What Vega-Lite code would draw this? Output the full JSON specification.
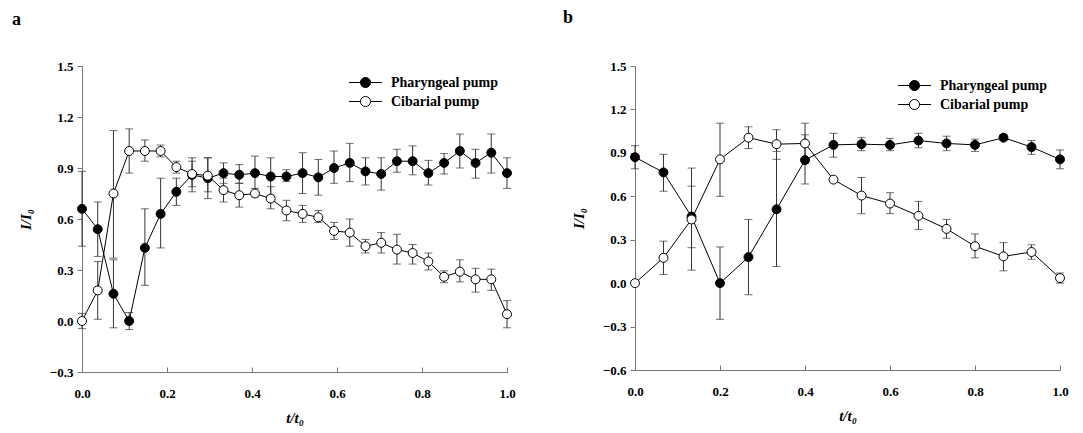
{
  "$schema": "https://vega.github.io/schema/vega-lite/v6.json",
  "padding": {"left": 12, "top": 9, "right": 5, "bottom": 5},
  "background": "white",
  "config": {
    "font": "Liberation Serif",
    "view": {"stroke": null},
    "concat": {"spacing": 47},
    "axis": {
      "domainColor": "#777777", "tickColor": "#777777", "grid": false,
      "labelFont": "Liberation Serif", "labelFontWeight": "bold", "labelFontSize": 13, "labelColor": "black",
      "titleFont": "Liberation Serif", "titleFontWeight": "bold", "titleFontStyle": "italic", "titleFontSize": 15, "titleColor": "black"
    },
    "axisY": {"tickSize": 5, "labelPadding": 4, "titlePadding": 16},
    "axisX": {"tickSize": -5, "labelPadding": 20, "titlePadding": 10, "labelFlush": false},
    "legend": {
      "labelFont": "Liberation Serif", "labelFontWeight": "bold", "labelFontSize": 14, "labelColor": "black",
      "symbolType": "M-1.83,0H-0.56M0.56,0H1.83M-0.56,0A0.56,0.56 0 1,0 0.56,0A0.56,0.56 0 1,0 -0.56,0Z",
      "symbolSize": 324, "symbolStrokeColor": "black", "symbolStrokeWidth": 1,
      "labelOffset": 16, "padding": 0
    },
    "title": {"font": "Liberation Serif", "fontWeight": "bold", "fontSize": 18, "color": "black"}
  },
  "datasets": {
    "a": [
      {"series": "Pharyngeal pump", "x": 0.0, "y": 0.66, "lo": 0.44, "hi": 0.88},
      {"series": "Pharyngeal pump", "x": 0.037, "y": 0.54, "lo": 0.38, "hi": 0.70},
      {"series": "Pharyngeal pump", "x": 0.074, "y": 0.16, "lo": -0.04, "hi": 0.36},
      {"series": "Pharyngeal pump", "x": 0.111, "y": 0.00, "lo": -0.05, "hi": 0.05},
      {"series": "Pharyngeal pump", "x": 0.148, "y": 0.43, "lo": 0.21, "hi": 0.66},
      {"series": "Pharyngeal pump", "x": 0.185, "y": 0.63, "lo": 0.43, "hi": 0.84},
      {"series": "Pharyngeal pump", "x": 0.222, "y": 0.76, "lo": 0.68, "hi": 0.84},
      {"series": "Pharyngeal pump", "x": 0.259, "y": 0.86, "lo": 0.76, "hi": 0.96},
      {"series": "Pharyngeal pump", "x": 0.296, "y": 0.84, "lo": 0.72, "hi": 0.96},
      {"series": "Pharyngeal pump", "x": 0.333, "y": 0.87, "lo": 0.81, "hi": 0.93},
      {"series": "Pharyngeal pump", "x": 0.370, "y": 0.86, "lo": 0.81, "hi": 0.92},
      {"series": "Pharyngeal pump", "x": 0.407, "y": 0.87, "lo": 0.76, "hi": 0.97},
      {"series": "Pharyngeal pump", "x": 0.444, "y": 0.85, "lo": 0.74, "hi": 0.96},
      {"series": "Pharyngeal pump", "x": 0.481, "y": 0.85, "lo": 0.82, "hi": 0.89},
      {"series": "Pharyngeal pump", "x": 0.519, "y": 0.87, "lo": 0.75, "hi": 0.99},
      {"series": "Pharyngeal pump", "x": 0.556, "y": 0.845, "lo": 0.74, "hi": 0.95},
      {"series": "Pharyngeal pump", "x": 0.593, "y": 0.90, "lo": 0.81, "hi": 1.00},
      {"series": "Pharyngeal pump", "x": 0.630, "y": 0.93, "lo": 0.82, "hi": 1.045},
      {"series": "Pharyngeal pump", "x": 0.667, "y": 0.88, "lo": 0.80, "hi": 0.96},
      {"series": "Pharyngeal pump", "x": 0.704, "y": 0.865, "lo": 0.77, "hi": 0.96},
      {"series": "Pharyngeal pump", "x": 0.741, "y": 0.94, "lo": 0.875, "hi": 1.01},
      {"series": "Pharyngeal pump", "x": 0.778, "y": 0.94, "lo": 0.86, "hi": 1.03},
      {"series": "Pharyngeal pump", "x": 0.815, "y": 0.87, "lo": 0.80, "hi": 0.945},
      {"series": "Pharyngeal pump", "x": 0.852, "y": 0.93, "lo": 0.865, "hi": 0.985},
      {"series": "Pharyngeal pump", "x": 0.889, "y": 1.00, "lo": 0.90, "hi": 1.10},
      {"series": "Pharyngeal pump", "x": 0.926, "y": 0.93, "lo": 0.84, "hi": 1.01},
      {"series": "Pharyngeal pump", "x": 0.963, "y": 0.99, "lo": 0.87, "hi": 1.10},
      {"series": "Pharyngeal pump", "x": 1.0, "y": 0.87, "lo": 0.78, "hi": 0.96},
      {"series": "Cibarial pump", "x": 0.0, "y": 0.00, "lo": -0.045, "hi": 0.045},
      {"series": "Cibarial pump", "x": 0.037, "y": 0.18, "lo": 0.01, "hi": 0.35},
      {"series": "Cibarial pump", "x": 0.074, "y": 0.75, "lo": 0.37, "hi": 1.12},
      {"series": "Cibarial pump", "x": 0.111, "y": 1.00, "lo": 0.87, "hi": 1.13},
      {"series": "Cibarial pump", "x": 0.148, "y": 1.00, "lo": 0.94, "hi": 1.065},
      {"series": "Cibarial pump", "x": 0.185, "y": 1.00, "lo": 0.965, "hi": 1.035},
      {"series": "Cibarial pump", "x": 0.222, "y": 0.905, "lo": 0.87, "hi": 0.94},
      {"series": "Cibarial pump", "x": 0.259, "y": 0.865, "lo": 0.79, "hi": 0.94},
      {"series": "Cibarial pump", "x": 0.296, "y": 0.855, "lo": 0.76, "hi": 0.96},
      {"series": "Cibarial pump", "x": 0.333, "y": 0.77, "lo": 0.70, "hi": 0.84},
      {"series": "Cibarial pump", "x": 0.370, "y": 0.74, "lo": 0.67, "hi": 0.81},
      {"series": "Cibarial pump", "x": 0.407, "y": 0.75, "lo": 0.73, "hi": 0.78},
      {"series": "Cibarial pump", "x": 0.444, "y": 0.72, "lo": 0.66, "hi": 0.79},
      {"series": "Cibarial pump", "x": 0.481, "y": 0.65, "lo": 0.59, "hi": 0.71},
      {"series": "Cibarial pump", "x": 0.519, "y": 0.63, "lo": 0.58, "hi": 0.68},
      {"series": "Cibarial pump", "x": 0.556, "y": 0.61, "lo": 0.58, "hi": 0.65},
      {"series": "Cibarial pump", "x": 0.593, "y": 0.53, "lo": 0.48, "hi": 0.58},
      {"series": "Cibarial pump", "x": 0.630, "y": 0.52, "lo": 0.44, "hi": 0.60},
      {"series": "Cibarial pump", "x": 0.667, "y": 0.44, "lo": 0.40, "hi": 0.48},
      {"series": "Cibarial pump", "x": 0.704, "y": 0.46, "lo": 0.40, "hi": 0.52},
      {"series": "Cibarial pump", "x": 0.741, "y": 0.42, "lo": 0.335, "hi": 0.51},
      {"series": "Cibarial pump", "x": 0.778, "y": 0.40, "lo": 0.335, "hi": 0.45},
      {"series": "Cibarial pump", "x": 0.815, "y": 0.35, "lo": 0.30, "hi": 0.40},
      {"series": "Cibarial pump", "x": 0.852, "y": 0.26, "lo": 0.225, "hi": 0.295},
      {"series": "Cibarial pump", "x": 0.889, "y": 0.29, "lo": 0.23, "hi": 0.36},
      {"series": "Cibarial pump", "x": 0.926, "y": 0.245, "lo": 0.17, "hi": 0.31},
      {"series": "Cibarial pump", "x": 0.963, "y": 0.245, "lo": 0.18, "hi": 0.305},
      {"series": "Cibarial pump", "x": 1.0, "y": 0.04, "lo": -0.04, "hi": 0.12}
    ],
    "b": [
      {"series": "Pharyngeal pump", "x": 0.0, "y": 0.87, "lo": 0.79, "hi": 0.95},
      {"series": "Pharyngeal pump", "x": 0.067, "y": 0.765, "lo": 0.635, "hi": 0.89},
      {"series": "Pharyngeal pump", "x": 0.133, "y": 0.46, "lo": 0.245, "hi": 0.67},
      {"series": "Pharyngeal pump", "x": 0.2, "y": 0.0, "lo": -0.25, "hi": 0.25},
      {"series": "Pharyngeal pump", "x": 0.267, "y": 0.18, "lo": -0.08, "hi": 0.44},
      {"series": "Pharyngeal pump", "x": 0.333, "y": 0.51, "lo": 0.115, "hi": 0.91},
      {"series": "Pharyngeal pump", "x": 0.4, "y": 0.85, "lo": 0.685, "hi": 1.025},
      {"series": "Pharyngeal pump", "x": 0.467, "y": 0.955, "lo": 0.87, "hi": 1.035},
      {"series": "Pharyngeal pump", "x": 0.533, "y": 0.96, "lo": 0.915, "hi": 1.005},
      {"series": "Pharyngeal pump", "x": 0.6, "y": 0.955, "lo": 0.915, "hi": 1.0},
      {"series": "Pharyngeal pump", "x": 0.667, "y": 0.985, "lo": 0.935, "hi": 1.035},
      {"series": "Pharyngeal pump", "x": 0.733, "y": 0.965, "lo": 0.915, "hi": 1.015},
      {"series": "Pharyngeal pump", "x": 0.8, "y": 0.955, "lo": 0.91, "hi": 0.995},
      {"series": "Pharyngeal pump", "x": 0.867, "y": 1.005, "lo": 0.985, "hi": 1.025},
      {"series": "Pharyngeal pump", "x": 0.933, "y": 0.94, "lo": 0.89, "hi": 0.985},
      {"series": "Pharyngeal pump", "x": 1.0, "y": 0.855, "lo": 0.79, "hi": 0.92},
      {"series": "Cibarial pump", "x": 0.0, "y": 0.0, "lo": 0.0, "hi": 0.0},
      {"series": "Cibarial pump", "x": 0.067, "y": 0.175, "lo": 0.06, "hi": 0.29},
      {"series": "Cibarial pump", "x": 0.133, "y": 0.44, "lo": 0.09, "hi": 0.795},
      {"series": "Cibarial pump", "x": 0.2, "y": 0.855, "lo": 0.60, "hi": 1.105},
      {"series": "Cibarial pump", "x": 0.267, "y": 1.005, "lo": 0.93, "hi": 1.08},
      {"series": "Cibarial pump", "x": 0.333, "y": 0.96, "lo": 0.855, "hi": 1.06},
      {"series": "Cibarial pump", "x": 0.4, "y": 0.965, "lo": 0.83, "hi": 1.105},
      {"series": "Cibarial pump", "x": 0.467, "y": 0.715, "lo": 0.705, "hi": 0.725},
      {"series": "Cibarial pump", "x": 0.533, "y": 0.605, "lo": 0.48, "hi": 0.73},
      {"series": "Cibarial pump", "x": 0.6, "y": 0.55, "lo": 0.48, "hi": 0.625},
      {"series": "Cibarial pump", "x": 0.667, "y": 0.465, "lo": 0.37, "hi": 0.565},
      {"series": "Cibarial pump", "x": 0.733, "y": 0.375, "lo": 0.31, "hi": 0.44},
      {"series": "Cibarial pump", "x": 0.8, "y": 0.255, "lo": 0.175, "hi": 0.34},
      {"series": "Cibarial pump", "x": 0.867, "y": 0.185, "lo": 0.085, "hi": 0.28},
      {"series": "Cibarial pump", "x": 0.933, "y": 0.215, "lo": 0.165, "hi": 0.265},
      {"series": "Cibarial pump", "x": 1.0, "y": 0.035, "lo": 0.0, "hi": 0.07}
    ]
  },
  "hconcat": [
    {
      "width": 425, "height": 306,
      "title": {"text": "a", "anchor": "start", "frame": "group", "dx": -70, "offset": 31},
      "data": {"name": "a"},
      "encoding": {
        "x": {"field": "x", "type": "quantitative", "scale": {"domain": [0, 1], "nice": false}, "axis": {"values": [0, 0.2, 0.4, 0.6, 0.8, 1], "format": ".1f", "title": "t/t₀"}}
      },
      "layer": [
        {
          "mark": {"type": "errorbar", "color": "#333333", "thickness": 1, "ticks": {"size": 8, "color": "#333333"}},
          "encoding": {
            "y": {"field": "lo", "type": "quantitative", "scale": {"domain": [-0.3, 1.5], "nice": false, "zero": false}, "axis": {"values": [-0.3, 0, 0.3, 0.6, 0.9, 1.2, 1.5], "format": ".1f", "title": "I/I₀"}},
            "y2": {"field": "hi"},
            "detail": {"field": "series"}
          }
        },
        {
          "mark": {"type": "line", "color": "black", "strokeWidth": 1},
          "encoding": {
            "y": {"field": "y", "type": "quantitative", "scale": {"domain": [-0.3, 1.5], "nice": false, "zero": false}, "axis": {"values": [-0.3, 0, 0.3, 0.6, 0.9, 1.2, 1.5], "format": ".1f", "title": "I/I₀"}},
            "detail": {"field": "series"}
          }
        },
        {
          "mark": {"type": "point", "shape": "circle", "size": 80, "stroke": "black", "strokeWidth": 1, "opacity": 1, "filled": false},
          "encoding": {
            "y": {"field": "y", "type": "quantitative", "scale": {"domain": [-0.3, 1.5], "nice": false, "zero": false}, "axis": {"values": [-0.3, 0, 0.3, 0.6, 0.9, 1.2, 1.5], "format": ".1f", "title": "I/I₀"}},
            "fill": {"field": "series", "type": "nominal", "scale": {"domain": ["Pharyngeal pump", "Cibarial pump"], "range": ["black", "white"]},
              "legend": {"title": null, "orient": "none", "legendX": 274, "legendY": 7, "rowPadding": 2}}
          }
        }
      ]
    },
    {
      "width": 425, "height": 304,
      "title": {"text": "b", "anchor": "start", "frame": "group", "dx": -72, "offset": 33},
      "data": {"name": "b"},
      "encoding": {
        "x": {"field": "x", "type": "quantitative", "scale": {"domain": [0, 1], "nice": false}, "axis": {"values": [0, 0.2, 0.4, 0.6, 0.8, 1], "format": ".1f", "title": "t/t₀"}}
      },
      "layer": [
        {
          "mark": {"type": "errorbar", "color": "#333333", "thickness": 1, "ticks": {"size": 8, "color": "#333333"}},
          "encoding": {
            "y": {"field": "lo", "type": "quantitative", "scale": {"domain": [-0.6, 1.5], "nice": false, "zero": false}, "axis": {"values": [-0.6, -0.3, 0, 0.3, 0.6, 0.9, 1.2, 1.5], "format": ".1f", "title": "I/I₀"}},
            "y2": {"field": "hi"},
            "detail": {"field": "series"}
          }
        },
        {
          "mark": {"type": "line", "color": "black", "strokeWidth": 1},
          "encoding": {
            "y": {"field": "y", "type": "quantitative", "scale": {"domain": [-0.6, 1.5], "nice": false, "zero": false}, "axis": {"values": [-0.6, -0.3, 0, 0.3, 0.6, 0.9, 1.2, 1.5], "format": ".1f", "title": "I/I₀"}},
            "detail": {"field": "series"}
          }
        },
        {
          "mark": {"type": "point", "shape": "circle", "size": 80, "stroke": "black", "strokeWidth": 1, "opacity": 1, "filled": false},
          "encoding": {
            "y": {"field": "y", "type": "quantitative", "scale": {"domain": [-0.6, 1.5], "nice": false, "zero": false}, "axis": {"values": [-0.6, -0.3, 0, 0.3, 0.6, 0.9, 1.2, 1.5], "format": ".1f", "title": "I/I₀"}},
            "fill": {"field": "series", "type": "nominal", "scale": {"domain": ["Pharyngeal pump", "Cibarial pump"], "range": ["black", "white"]},
              "legend": {"title": null, "orient": "none", "legendX": 270, "legendY": 10, "rowPadding": 2}}
          }
        }
      ]
    }
  ],
  "resolve": {"scale": {"fill": "independent"}, "legend": {"fill": "independent"}}
}
